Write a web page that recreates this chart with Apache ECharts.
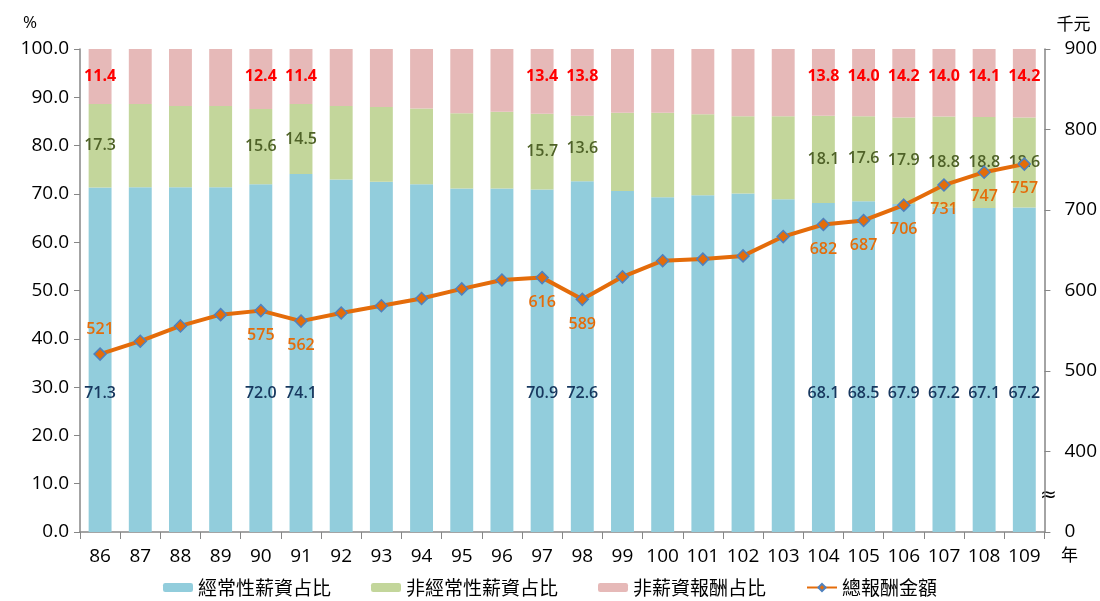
<!DOCTYPE html>
<html><head><meta charset="utf-8">
<script src="https://cdn.jsdelivr.net/npm/echarts@6/dist/echarts.min.js"></script>
<style>html,body{margin:0;padding:0;background:#fff}#c{width:1100px;height:601px}</style>
</head><body><div id="c"></div>
<script>
var years = ['86','87','88','89','90','91','92','93','94','95','96','97','98','99','100','101','102','103','104','105','106','107','108','109'];
var regular = [71.3,71.4,71.4,71.4,72.0,74.1,73.0,72.5,72.0,71.1,71.1,70.9,72.6,70.6,69.3,69.7,70.1,68.9,68.1,68.5,67.9,67.2,67.1,67.2];
var irregular = [17.3,17.2,16.8,16.8,15.6,14.5,15.2,15.5,15.7,15.6,15.9,15.7,13.6,16.2,17.5,16.8,16.0,17.2,18.1,17.6,17.9,18.8,18.8,18.6];
var nonWage = [11.4,11.4,11.8,11.8,12.4,11.4,11.8,12.0,12.3,13.3,13.0,13.4,13.8,13.2,13.2,13.5,13.9,13.9,13.8,14.0,14.2,14.0,14.1,14.2];
var total = [521,537,556,570,575,562,572,581,590,602,613,616,589,617,637,639,643,667,682,687,706,731,747,757];
var labeledYears = ['86','90','91','97','98','104','105','106','107','108','109'];
var rightTickLabels = {300:'0',400:'400',500:'500',600:'600',700:'700',800:'800',900:'900'};

var FONT = '"Open Sans", Lato, sans-serif';
var CJK = '"Noto Sans CJK TC", sans-serif';
function withLabels(arr){
  return arr.map(function(v,i){
    return {value: v, label: {show: labeledYears.indexOf(years[i]) >= 0}};
  });
}
var lineData = total.map(function(v,i){
  var o = {value: v, label: {show: labeledYears.indexOf(years[i]) >= 0}};
  if (years[i] === '86') o.label.position = 'top';
  return o;
});
function fmt1(p){ return p.value.toFixed(1); }

var chart = echarts.init(document.getElementById('c'));
chart.setOption({
  animation: false,
  textStyle: {fontFamily: FONT},
  grid: {left: 80, right: 54, top: 49, bottom: 69},
  legend: {
    top: 578, left: 'center', padding: [0, 5], itemWidth: 30, itemHeight: 9, itemGap: 40,
    textStyle: {fontFamily: CJK, fontSize: 19, color: '#000'},
    data: ['經常性薪資占比','非經常性薪資占比','非薪資報酬占比','總報酬金額']
  },
  xAxis: {
    type: 'category', data: years,
    axisLine: {lineStyle: {color: '#868686', width: 1.5}},
    axisTick: {show: true, length: 7, lineStyle: {color: '#868686'}},
    axisLabel: {interval: 0, color: '#000', fontSize: 19, margin: 15, fontFamily: FONT}
  },
  yAxis: [{
    type: 'value', min: 0, max: 100, interval: 10,
    name: '%', nameLocation: 'end', nameGap: 17,
    nameTextStyle: {color: '#000', fontSize: 17, align: 'left', padding: [0, 0, 0, -57], fontFamily: FONT},
    axisLine: {show: true, lineStyle: {color: '#868686', width: 1.5}},
    axisTick: {show: true, length: 6, lineStyle: {color: '#868686'}},
    splitLine: {show: false},
    axisLabel: {color: '#000', fontSize: 19, margin: 11, fontFamily: FONT,
      formatter: function(v){ return v.toFixed(1); }}
  },{
    type: 'value', min: 300, max: 900, interval: 100, position: 'right',
    name: '千元', nameLocation: 'end', nameGap: 17,
    nameTextStyle: {color: '#000', fontSize: 17, align: 'left', padding: [0, 0, 0, 12], fontFamily: CJK},
    axisLine: {show: true, lineStyle: {color: '#868686', width: 1.5}},
    axisTick: {show: true, length: 6, lineStyle: {color: '#868686'}},
    splitLine: {show: false},
    axisLabel: {color: '#000', fontSize: 19, margin: 20, fontFamily: FONT,
      formatter: function(v){ return rightTickLabels[v] !== undefined ? rightTickLabels[v] : ''; }}
  }],
  series: [{
    name: '經常性薪資占比', type: 'bar', stack: 's', barWidth: '57%',
    itemStyle: {color: '#92CDDC'},
    label: {position: 'insideBottom', distance: 131, color: '#17375E', fontSize: 16, fontWeight: 600, fontFamily: FONT, formatter: fmt1},
    data: withLabels(regular)
  },{
    name: '非經常性薪資占比', type: 'bar', stack: 's',
    itemStyle: {color: '#C3D69B'},
    label: {position: 'inside', color: '#4F6228', fontSize: 16, fontWeight: 600, fontFamily: FONT, formatter: fmt1},
    data: withLabels(irregular)
  },{
    name: '非薪資報酬占比', type: 'bar', stack: 's',
    itemStyle: {color: '#E6B9B8'},
    label: {position: 'insideTop', distance: 19, color: '#FF0000', fontSize: 16, fontWeight: 'bold', fontFamily: FONT, formatter: fmt1},
    data: withLabels(nonWage)
  },{
    name: '總報酬金額', type: 'line', yAxisIndex: 1,
    symbol: 'diamond', symbolSize: 12,
    lineStyle: {color: '#E46C0A', width: 4},
    itemStyle: {color: '#E46C0A', borderColor: '#4F81BD', borderWidth: 1.5},
    label: {position: 'bottom', distance: 10, color: '#E46C0A', fontSize: 16, fontWeight: 600, fontFamily: FONT},
    data: lineData
  }],
  graphic: [{
    type: 'text', left: 1061, top: 546,
    style: {text: '年', fontSize: 17, fill: '#000', fontFamily: CJK}
  },{
    type: 'text', left: 1040, top: 486,
    style: {text: '≈', fontSize: 20, fill: '#000', fontFamily: 'DejaVu Sans'}
  }]
});
</script></body></html>
